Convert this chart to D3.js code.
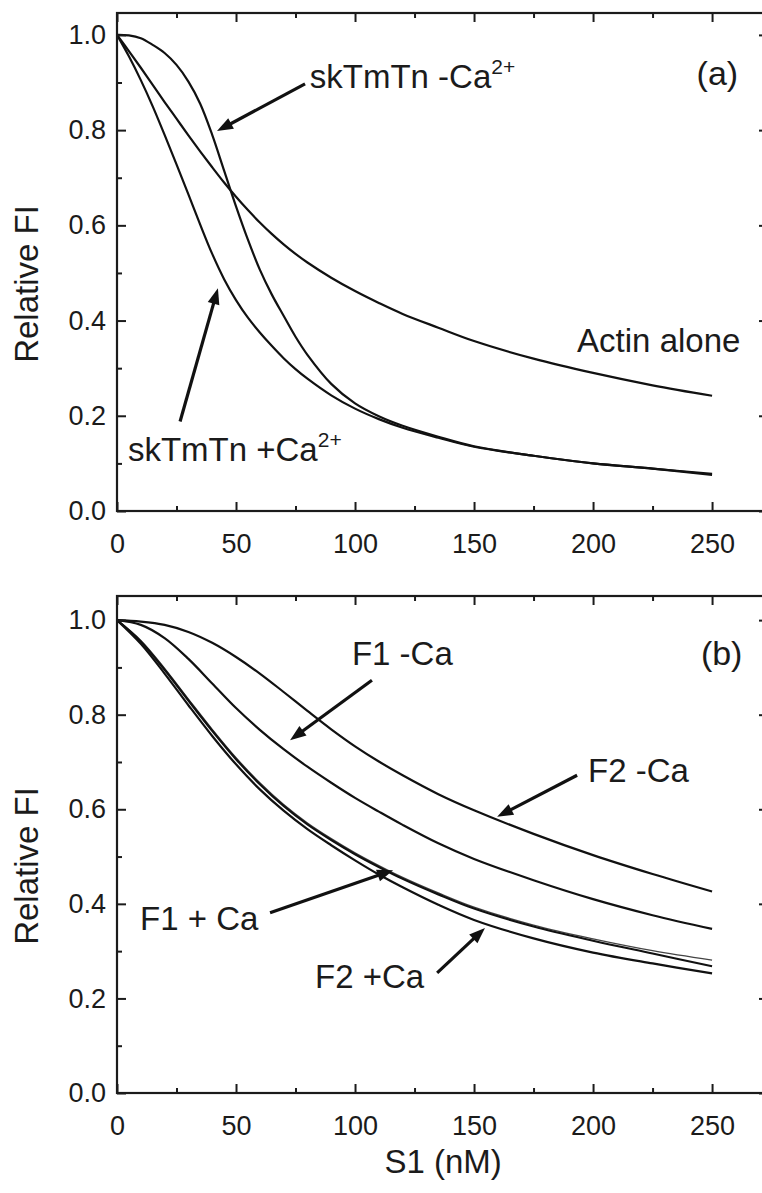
<!DOCTYPE html>
<html>
<head>
<meta charset="utf-8">
<script src="https://cdn.jsdelivr.net/npm/d3@7"></script>
<style>
  body { margin: 0; background: #fff; }
  svg text { font-family: "Liberation Sans", Arial, Helvetica, sans-serif; fill: #1b1b1b; }
</style>
</head>
<body>
<svg id="chart" width="762" height="1193"></svg>
<script>
// panel (a) : S1 (nM) grid and relative FI
const s1_a = [0, 5, 10, 15, 20, 25, 30, 35, 40, 45, 50, 55, 60, 65, 70, 75, 80, 90, 100, 110, 120, 135, 150, 175, 200, 225, 250]
const actin_alone = [1.0, 0.966, 0.931, 0.895, 0.859, 0.824, 0.789, 0.755, 0.722, 0.69, 0.66, 0.632, 0.606, 0.582, 0.56, 0.54, 0.522, 0.49, 0.462, 0.437, 0.414, 0.385, 0.357, 0.32, 0.29, 0.264, 0.242]
const sk_minus_ca = [1.0, 0.999, 0.993, 0.979, 0.962, 0.937, 0.902, 0.855, 0.79, 0.715, 0.64, 0.57, 0.507, 0.455, 0.41, 0.366, 0.328, 0.267, 0.226, 0.199, 0.179, 0.156, 0.136, 0.116, 0.1, 0.089, 0.078]
const sk_plus_ca = [1.0, 0.955, 0.905, 0.85, 0.79, 0.728, 0.665, 0.601, 0.54, 0.487, 0.443, 0.406, 0.375, 0.347, 0.321, 0.298, 0.278, 0.243, 0.215, 0.193, 0.175, 0.154, 0.135, 0.116, 0.1, 0.089, 0.076]

// panel (b)
const s1_b = [0, 10, 20, 30, 40, 50, 60, 70, 80, 90, 100, 110, 120, 135, 150, 175, 200, 225, 250]
const f2_minus_ca = [1.0, 0.997, 0.99, 0.975, 0.952, 0.922, 0.887, 0.848, 0.808, 0.769, 0.733, 0.701, 0.672, 0.632, 0.598, 0.548, 0.503, 0.463, 0.426]
const f1_minus_ca = [1.0, 0.99, 0.962, 0.918, 0.866, 0.814, 0.768, 0.727, 0.69, 0.656, 0.624, 0.595, 0.567, 0.528, 0.495, 0.45, 0.41, 0.376, 0.347]
const f1_plus_ca = [1.0, 0.955, 0.895, 0.83, 0.766, 0.706, 0.653, 0.607, 0.568, 0.535, 0.505, 0.478, 0.453, 0.42, 0.39, 0.352, 0.322, 0.295, 0.268]
const f1_plus_ca_data = [1.0, 0.957, 0.898, 0.833, 0.769, 0.709, 0.656, 0.61, 0.571, 0.538, 0.508, 0.481, 0.456, 0.423, 0.393, 0.355, 0.326, 0.301, 0.281]
const f2_plus_ca = [1.0, 0.95, 0.887, 0.82, 0.755, 0.695, 0.642, 0.597, 0.558, 0.524, 0.492, 0.462, 0.435, 0.398, 0.366, 0.327, 0.297, 0.274, 0.253]

const x_ticks = [0, 50, 100, 150, 200, 250]
const x_minor = [25, 75, 125, 175, 225]
const y_ticks = [0, 0.2, 0.4, 0.6, 0.8, 1.0]
const y_minor = [0.1, 0.3, 0.5, 0.7, 0.9]

const svg = d3.select("#chart")
const left = 117, right = 768

const x = d3.scaleLinear().domain([0, 273.5]).range([left, right])

function drawPanel(p) {
    const y = d3.scaleLinear().domain([0, p.y_max]).range([p.bottom, p.top])
    const g = svg.append("g")

    // curves
    const line = d3.line().x(d => x(d[0])).y(d => y(d[1])).curve(d3.curveCatmullRom.alpha(0.5))
    p.series.forEach(s => {
        g.append("path")
            .attr("d", line(s.x.map((v, i) => [v, s.y[i]])))
            .attr("fill", "none").attr("stroke", s.color || "#111").attr("stroke-width", s.width || 2.2)
            .attr("stroke-linejoin", "round")
    })

    // frame + inward ticks on all four sides
    g.append("rect")
        .attr("x", left).attr("y", p.top).attr("width", right - left).attr("height", p.bottom - p.top)
        .attr("fill", "none").attr("stroke", "#1b1b1b").attr("stroke-width", 2.2)

    const axes = [
        [d3.axisBottom(x).tickValues(x_ticks).tickFormat(d3.format("d")).tickSize(-9).tickPadding(23), `translate(0,${p.bottom})`],
        [d3.axisBottom(x).tickValues(x_minor).tickFormat("").tickSize(-5), `translate(0,${p.bottom})`],
        [d3.axisTop(x).tickValues(x_ticks).tickFormat("").tickSize(-9), `translate(0,${p.top})`],
        [d3.axisTop(x).tickValues(x_minor).tickFormat("").tickSize(-5), `translate(0,${p.top})`],
        [d3.axisLeft(y).tickValues(y_ticks).tickFormat(d3.format(".1f")).tickSize(-9).tickPadding(11), `translate(${left},0)`],
        [d3.axisLeft(y).tickValues(y_minor).tickFormat("").tickSize(-5), `translate(${left},0)`],
        [d3.axisRight(y).tickValues(y_ticks).tickFormat("").tickSize(-9), `translate(${right},0)`],
        [d3.axisRight(y).tickValues(y_minor).tickFormat("").tickSize(-5), `translate(${right},0)`]
    ]
    axes.forEach(([ax, tr]) => {
        const a = g.append("g").attr("transform", tr).call(ax)
        a.select(".domain").remove()
        a.selectAll("line").attr("stroke", "#1b1b1b").attr("stroke-width", 2)
        a.selectAll("text").attr("font-size", 27).attr("fill", "#1b1b1b")
            .style("font-family", '"Liberation Sans", Arial, sans-serif')
    })

    g.append("text")
        .attr("transform", `translate(38,${p.label_y}) rotate(-90)`)
        .attr("text-anchor", "middle").attr("font-size", 33)
        .text("Relative FI")

    // annotations, placed in data units
    p.notes.forEach(n => {
        const t = g.append("text").attr("x", x(n.x)).attr("y", y(n.y)).attr("font-size", n.size || 33)
        t.append("tspan").text(n.text)
        if (n.sup) t.append("tspan").attr("font-size", 21).attr("dy", -14).text(n.sup)
    })
    p.arrows.forEach(a => drawArrow(g, x(a[0]), y(a[1]), x(a[2]), y(a[3])))
}

function drawArrow(g, x1, y1, x2, y2) {
    const len = Math.hypot(x2 - x1, y2 - y1)
    const ux = (x2 - x1) / len, uy = (y2 - y1) / len
    const head = 16, half = 6
    const bx = x2 - ux * head, by = y2 - uy * head
    g.append("line")
        .attr("x1", x1).attr("y1", y1).attr("x2", bx + ux * 2).attr("y2", by + uy * 2)
        .attr("stroke", "#111").attr("stroke-width", 3.2)
    g.append("polygon")
        .attr("points", [[x2, y2], [bx - uy * half, by + ux * half], [bx + uy * half, by - ux * half]].map(p => p.join(",")).join(" "))
        .attr("fill", "#111")
}

drawPanel({
    top: 13, bottom: 511, y_max: 1.046, label_y: 284,
    series: [
        { x: s1_a, y: actin_alone },
        { x: s1_a, y: sk_minus_ca },
        { x: s1_a, y: sk_plus_ca }
    ],
    notes: [
        { x: 81, y: 0.889, text: "skTmTn -Ca", sup: "2+" },
        { x: 4.6, y: 0.105, text: "skTmTn +Ca", sup: "2+" },
        { x: 193.3, y: 0.334, text: "Actin alone" },
        { x: 243.5, y: 0.895, text: "(a)", size: 34 }
    ],
    arrows: [
        [79, 0.897, 42, 0.798],
        [26.5, 0.188, 42.4, 0.468]
    ]
})

drawPanel({
    top: 596, bottom: 1093, y_max: 1.051, label_y: 866,
    series: [
        { x: s1_b, y: f2_minus_ca },
        { x: s1_b, y: f1_minus_ca },
        { x: s1_b, y: f1_plus_ca_data, color: "#444", width: 1.4 },
        { x: s1_b, y: f1_plus_ca },
        { x: s1_b, y: f2_plus_ca }
    ],
    notes: [
        { x: 98.7, y: 0.905, text: "F1 -Ca" },
        { x: 197.9, y: 0.657, text: "F2 -Ca" },
        { x: 9.7, y: 0.345, text: "F1 + Ca" },
        { x: 83.2, y: 0.222, text: "F2 +Ca" },
        { x: 245.3, y: 0.905, text: "(b)", size: 34 }
    ],
    arrows: [
        [107.1, 0.873, 72.7, 0.746],
        [193.3, 0.672, 159.7, 0.584],
        [64.3, 0.381, 116, 0.471],
        [134.5, 0.254, 154.6, 0.349]
    ]
})

svg.append("text")
    .attr("x", x(137)).attr("y", 1173).attr("text-anchor", "middle").attr("font-size", 33)
    .text("S1 (nM)")
</script>
</body>
</html>
